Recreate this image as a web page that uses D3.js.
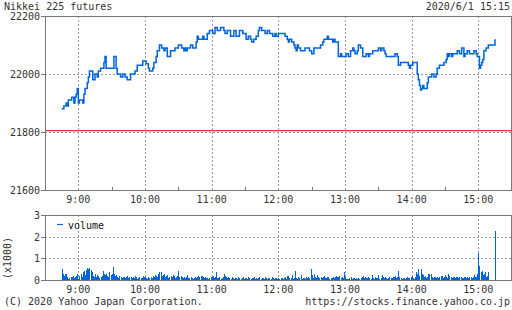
<!DOCTYPE html>
<html>
<head>
<meta charset="utf-8">
<script src="https://cdn.jsdelivr.net/npm/d3@7"></script>
<style>
  body { margin: 0; background: #fff; }
  text { font-family: "DejaVu Sans Mono", "Liberation Mono", monospace; font-size: 10px; fill: #333; }
</style>
</head>
<body>
<div id="chart"></div>
<script>
// price steps (time of change, price)
const priceTimes = ["8:45","8:47","8:49","8:50","8:51","8:54","8:56","8:57","8:58","8:59",
  "9:00","9:01","9:04","9:05","9:06","9:08","9:09","9:10","9:13","9:15","9:17","9:18","9:20","9:23","9:24","9:25",
  "9:32","9:34","9:35","9:38","9:40","9:42","9:44","9:47","9:51","9:53","9:58",
  "10:01","10:03","10:04","10:07","10:08","10:10","10:11","10:13","10:15","10:17","10:18","10:20","10:23","10:27",
  "10:30","10:33","10:35","10:36","10:37","10:38","10:41","10:43","10:46","10:47","10:48","10:52","10:53","10:56","10:58",
  "11:01","11:03","11:05","11:08","11:11","11:12","11:14","11:17","11:20","11:22","11:25","11:28","11:31","11:33","11:35",
  "11:36","11:38","11:40","11:42","11:43","11:45","11:48","11:50","11:52","11:55","11:57","11:58",
  "12:00","12:06","12:08","12:09","12:10","12:12","12:14","12:15","12:16","12:17","12:18","12:20","12:24","12:28",
  "12:30","12:32","12:38","12:40","12:41","12:44","12:45","12:49","12:50","12:51","12:54","12:56","12:57",
  "13:01","13:03","13:05","13:07","13:08","13:09","13:11","13:12","13:14","13:16","13:19","13:21","13:22","13:25",
  "13:30","13:32","13:33","13:35","13:36","13:37","13:45","13:47","13:48","13:50","13:57","13:58","13:59",
  "14:01","14:05","14:06","14:07","14:08","14:09","14:10","14:11","14:14","14:15","14:18","14:20","14:22","14:23","14:25","14:29",
  "14:31","14:32","14:33","14:34","14:36","14:37","14:41","14:43","14:45","14:47","14:48","14:50","14:52","14:56","14:58","14:59",
  "15:01","15:02","15:03","15:04","15:05","15:07","15:09","15:15"];
const priceValues = [21880,21890,21900,21890,21910,21920,21900,21920,21930,21950,
  21900,21910,21900,21930,21950,21970,21990,22010,21980,22000,21990,22010,22020,22040,22060,22020,
  22060,22020,22000,21990,22000,21990,21980,22000,22010,22030,22045,
  22035,22020,22010,22020,22040,22060,22080,22100,22090,22080,22090,22060,22080,22090,
  22100,22090,22080,22090,22080,22090,22100,22090,22110,22130,22120,22130,22120,22140,22150,
  22140,22160,22150,22160,22150,22140,22150,22130,22150,22130,22150,22140,22120,22130,22120,
  22110,22120,22130,22150,22160,22150,22140,22150,22140,22130,22140,22130,
  22140,22130,22120,22110,22120,22110,22100,22090,22080,22100,22090,22080,22090,22080,
  22070,22090,22100,22110,22120,22130,22120,22110,22120,22110,22060,22070,22060,
  22070,22060,22080,22090,22080,22070,22080,22100,22090,22060,22070,22060,22070,22080,
  22090,22080,22090,22080,22070,22060,22070,22060,22030,22040,22030,22020,22030,
  22040,22000,21980,21960,21945,21950,21960,21950,21970,21990,22000,21990,22000,22020,22030,22040,
  22050,22070,22060,22070,22060,22070,22080,22070,22090,22060,22070,22080,22070,22080,22070,22060,
  22020,22030,22040,22050,22080,22090,22100,22120];

const prevClose = 21805;

// volume per minute from 8:45 (x1000)
const volumeStart = "8:45";
const volumes = [
  0.5,0.3,0.2,0.28,0.3,0.12,0.06,0.08,0.15,0.12,0.18,0.08,0.12,0.2,0.28,0.05,
  0.2,0.28,0.15,0.38,0.43,0.25,0.46,0.54,0.5,0.54,
  0.45,0.38,0.2,0.15,0.3,0.12,0.25,0.2,0.1,0.15,
  0.2,0.4,0.3,0.25,0.3,0.2,0.15,0.35,0.25,0.3,
  0.6,0.3,0.2,0.25,0.15,0.1,0.2,0.15,0.1,0.12,
  0.15,0.08,0.12,0.2,0.1,0.15,0.12,0.08,0.15,0.1,
  0.18,0.12,0.05,0.1,0.15,0.08,0.1,0.2,0.12,0.15,
  0.1,0.05,0.12,0.08,0.15,0.1,0.2,0.15,0.25,0.2,
  0.15,0.28,0.38,0.35,0.2,0.25,0.3,0.15,0.2,0.25,
  0.1,0.15,0.2,0.12,0.25,0.18,0.1,0.15,0.2,0.4,
  0.15,0.2,0.12,0.08,0.15,0.1,0.12,0.25,0.1,0.08,
  0.12,0.1,0.05,0.1,0.12,0.08,0.15,0.2,0.12,0.18,
  0.2,0.12,0.1,0.15,0.08,0.1,0.05,0.1,0.15,0.12,
  0.18,0.08,0.12,0.35,0.1,0.08,0.12,0.05,0.1,0.12,
  0.3,0.2,0.12,0.1,0.15,0.08,0.05,0.12,0.1,0.05,
  0.08,0.1,0.05,0.12,0.08,0.05,0.1,0.15,0.05,0.08,
  0.1,0.05,0.12,0.08,0.05,0.1,0.08,0.15,0.05,0.1,
  0.05,0.08,0.12,0.05,0.1,0.08,0.05,0.12,0.08,0.05,
  0.1,0.08,0.05,0.12,0.1,0.05,0.08,0.1,0.05,0.1,
  0.05,0.08,0.1,0.05,0.08,0.12,0.05,0.2,0.18,0.08,
  0.1,0.22,0.05,0.08,0.4,0.1,0.05,0.12,0.08,0.23,
  0.05,0.1,0.08,0.05,0.12,0.1,0.15,0.08,0.5,0.23,
  0.1,0.3,0.15,0.1,0.23,0.12,0.08,0.15,0.1,0.12,
  0.2,0.1,0.08,0.15,0.12,0.05,0.1,0.08,0.12,0.1,
  0.15,0.2,0.12,0.15,0.18,0.1,0.15,0.08,0.35,0.12,
  0.05,0.03,0.05,0.08,0.15,0.05,0.08,0.1,0.05,0.08,
  0.05,0.1,0.05,0.08,0.12,0.2,0.1,0.15,0.08,0.1,
  0.15,0.1,0.05,0.23,0.08,0.05,0.12,0.08,0.1,0.23,
  0.05,0.08,0.23,0.12,0.1,0.15,0.08,0.05,0.1,0.12,
  0.08,0.1,0.15,0.12,0.2,0.1,0.15,0.4,0.12,0.1,
  0.05,0.08,0.1,0.05,0.08,0.12,0.1,0.08,0.15,0.2,
  0.1,0.05,0.15,0.38,0.3,0.5,0.2,0.5,0.3,0.25,
  0.15,0.2,0.1,0.15,0.3,0.28,0.26,0.12,0.1,0.15,
  0.12,0.08,0.15,0.1,0.12,0.2,0.18,0.1,0.12,0.23,
  0.15,0.1,0.26,0.2,0.12,0.1,0.15,0.12,0.1,0.15,
  0.12,0.1,0.15,0.12,0.1,0.08,0.12,0.15,0.1,0.12,
  0.1,0.12,0.15,0.1,0.12,0.23,0.15,0.12,0.3,1.25,
  0.66,0.38,0.42,0.23,0.3,0.35,0.15,0.2,0.38,0,
  0,0,0,0,2.26];

const hourTicks = ["9:00","10:00","11:00","12:00","13:00","14:00","15:00"];
const halfTicks = ["9:30","10:30","11:30","12:30","13:30","14:30"];
const priceTicks = [21600, 21800, 22000, 22200];
const volTicks = [0, 1, 2, 3];

const title = "Nikkei 225 futures";
const stamp = "2020/6/1 15:15";

const parse = d3.timeParse("%H:%M");
const blue = "#0064dc";
const grid = "#999";
const frame = "#777";

const svg = d3.select("#chart")
    .append("svg")
    .attr("width", 512)
    .attr("height", 310)
    .style("background-color", "#fff");

const x = d3.scaleTime()
    .domain([parse("8:30"), parse("15:30")])
    .range([45, 511.67]);

const y = d3.scaleLinear().domain([21600, 22200]).range([190, 16]);
const vy = d3.scaleLinear().domain([0, 3]).range([280, 215]);

const left = 45, right = 511;

function panel(top, bottom, ys, ticks, fmt) {
    const g = svg.append("g").attr("shape-rendering", "crispEdges");
    // dashed grid
    g.selectAll(".vg").data(hourTicks).enter().append("line")
        .attr("x1", d => Math.round(x(parse(d))) + 0.5)
        .attr("x2", d => Math.round(x(parse(d))) + 0.5)
        .attr("y1", top).attr("y2", bottom)
        .attr("stroke", grid).attr("stroke-dasharray", "2,2");
    g.selectAll(".hg").data(ticks.slice(1, -1)).enter().append("line")
        .attr("x1", left).attr("x2", right)
        .attr("y1", d => Math.round(ys(d)) + 0.5)
        .attr("y2", d => Math.round(ys(d)) + 0.5)
        .attr("stroke", grid).attr("stroke-dasharray", "2,2");
    // y ticks and labels
    g.selectAll(".yt").data(ticks).enter().append("line")
        .attr("x1", left - 4).attr("x2", left)
        .attr("y1", d => Math.round(ys(d)) + 0.5)
        .attr("y2", d => Math.round(ys(d)) + 0.5)
        .attr("stroke", frame);
    svg.selectAll(null).data(ticks).enter().append("text")
        .attr("x", 40).attr("y", d => ys(d) + 4)
        .attr("text-anchor", "end")
        .text(fmt);
    return g;
}

const mainG = panel(16, 190, y, priceTicks, d => d);
const volG = panel(215, 280, vy, volTicks, d => d);

// half-hour minor ticks on main chart
mainG.selectAll(".mt").data(halfTicks).enter().append("line")
    .attr("x1", d => Math.round(x(parse(d))) + 0.5)
    .attr("x2", d => Math.round(x(parse(d))) + 0.5)
    .attr("y1", 187).attr("y2", 190)
    .attr("stroke", frame);

// previous close
svg.append("line")
    .attr("x1", left).attr("x2", right)
    .attr("y1", y(prevClose)).attr("y2", y(prevClose))
    .attr("stroke", "#e8303a").attr("stroke-width", 1.2);

// price line
const priceData = priceTimes.map((t, i) => ({ t: parse(t), v: priceValues[i] }));
svg.append("path")
    .datum(priceData)
    .attr("fill", "none")
    .attr("stroke", blue)
    .attr("stroke-width", 1.5)
    .attr("d", d3.line().curve(d3.curveStepAfter).x(d => x(d.t)).y(d => y(d.v)));

// volume bars
const t0 = parse(volumeStart);
svg.append("g").attr("shape-rendering", "crispEdges")
    .selectAll("rect").data(volumes).enter().append("rect")
    .attr("x", (d, i) => Math.round(x(d3.timeMinute.offset(t0, i))))
    .attr("width", 1)
    .attr("y", d => vy(d))
    .attr("height", d => 280 - vy(d))
    .attr("fill", blue);

// frames
[[16, 190], [215, 280]].forEach(([t, b]) => {
    svg.append("rect")
        .attr("x", left + 0.5).attr("y", t + 0.5)
        .attr("width", right - left).attr("height", b - t)
        .attr("fill", "none").attr("stroke", frame)
        .attr("shape-rendering", "crispEdges");
});

// x labels
[203, 292.5].forEach(by => {
    svg.selectAll(null).data(hourTicks).enter().append("text")
        .attr("x", d => x(parse(d)))
        .attr("y", by)
        .attr("text-anchor", "middle")
        .text(d => d);
});

// legend
svg.append("line")
    .attr("x1", 57).attr("x2", 63).attr("y1", 224.5).attr("y2", 224.5)
    .attr("stroke", blue).attr("stroke-width", 1.2);
svg.append("text").attr("x", 68).attr("y", 228.5).style("fill", "#111").text("volume");

svg.append("text")
    .attr("transform", "translate(10.5,258) rotate(-90)")
    .attr("text-anchor", "middle")
    .text("(x1000)");

// titles and footer
svg.append("text").attr("x", 4).attr("y", 10).text(title);
svg.append("text").attr("x", 510).attr("y", 10).attr("text-anchor", "end").text(stamp);
svg.append("text").attr("x", 4).attr("y", 305).text("(C) 2020 Yahoo Japan Corporation.");
svg.append("text").attr("x", 510).attr("y", 305).attr("text-anchor", "end").text("https://stocks.finance.yahoo.co.jp");
</script>
</body>
</html>
